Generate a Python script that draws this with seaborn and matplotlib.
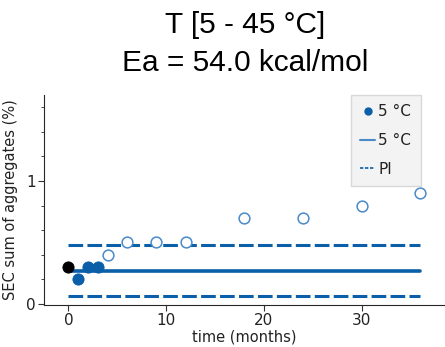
import matplotlib
matplotlib.use("Agg")
import matplotlib.pyplot as plt
import seaborn as sns
from matplotlib.ticker import MultipleLocator
from matplotlib.lines import Line2D

sns.set_style("ticks")
plt.rcParams['font.family'] = ['DejaVu Sans']

init_t = [0]
init_y = [0.3]
fit_t = [1, 2, 3]
fit_y = [0.2, 0.3, 0.3]
open_t = [4, 6, 9, 12, 18, 24, 30, 36]
open_y = [0.4, 0.5, 0.5, 0.5, 0.7, 0.7, 0.8, 0.9]
line_t = [0, 36]
pred_y = [0.27, 0.27]
pi_hi = [0.48, 0.48]
pi_lo = [0.065, 0.065]

blue = "#0a5fa8"
light = "#4a8ac8"

fig = plt.figure(figsize=(4.45, 3.47), dpi=100)
ax = fig.add_axes([0.099, 0.121, 0.90, 0.605])

sns.lineplot(x=line_t, y=pred_y, ax=ax, color=blue, lw=2.6)
sns.lineplot(x=line_t, y=pi_hi, ax=ax, color=blue, lw=2.2)
sns.lineplot(x=line_t, y=pi_lo, ax=ax, color=blue, lw=2.2)
for l in ax.lines[1:]:
    l.set_linestyle((0, (4.8, 1.4)))
sns.scatterplot(x=open_t, y=open_y, ax=ax, s=60, facecolor="white", edgecolor=light, linewidth=1.1, zorder=4)
sns.scatterplot(x=fit_t, y=fit_y, ax=ax, s=65, color=blue, edgecolor=blue, zorder=5)
sns.scatterplot(x=init_t, y=init_y, ax=ax, s=65, color="black", edgecolor="black", zorder=6)

ax.set_xlim(-2.5, 38.5)
ax.set_ylim(-0.01, 1.7)
ax.set_xticks([0, 10, 20, 30])
ax.set_yticks([0, 1])
ax.yaxis.set_minor_locator(MultipleLocator(0.2))
ax.tick_params(axis='both', labelsize=11, length=4, color="#333333", labelcolor="#222222", pad=2)
ax.tick_params(axis='y', which='minor', length=2)
sns.despine(ax=ax)
ax.set_xlabel("time (months)", fontsize=10.5, labelpad=1, color="#222222")
ax.set_ylabel("SEC sum of aggregates (%)", fontsize=10.5, labelpad=6, color="#222222")
fig.text(0.55, 0.928, "T [5 - 45 °C]", ha="center", va="center", fontsize=21.5, family="Liberation Sans", color="black")
fig.text(0.55, 0.818, "Ea = 54.0 kcal/mol", ha="center", va="center", fontsize=21.5, family="Liberation Sans", color="black")

handles = [
    Line2D([], [], marker='o', color=blue, ls='none', markersize=5),
    Line2D([], [], color=light, lw=1.5),
    Line2D([], [], color=blue, lw=1.2, ls=(0, (2, 1))),
]
leg = ax.legend(handles, ["5 °C", "5 °C", "PI"], loc="upper right", bbox_to_anchor=(0.94, 1.0),
                borderaxespad=0.0, fontsize=11, frameon=True, facecolor="#f0f0f0", edgecolor="#d0d0d0",
                handlelength=1.0, handletextpad=0.2, borderpad=0.6, labelspacing=0.9, fancybox=False)
for t in leg.get_texts():
    t.set_color("#222222")

fig.savefig("out.png", dpi=100)
